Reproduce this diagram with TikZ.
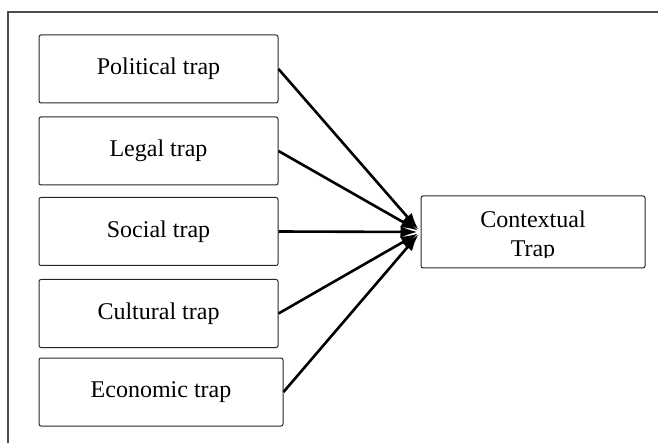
\documentclass[tikz,border=0pt]{standalone}
\usepackage{fontspec}
\setmainfont{Liberation Serif}
\usetikzlibrary{arrows.meta}
\begin{document}
\begin{tikzpicture}[x=1pt,y=-1pt,
  trapbox/.style={draw=black!85, line width=1pt, rounded corners=2pt,
    minimum width=239pt, minimum height=68pt, inner sep=0pt,
    font=\fontsize{24}{29}\selectfont},
  label/.style={font=\fontsize{24}{29}\selectfont, anchor=base, inner sep=0pt},
  feed/.style={line width=2.6pt, -{Latex[length=17pt,width=12pt]}, shorten >=3pt}]
\useasboundingbox (0,0) rectangle (658,443);
% outer frame (only top and left edges fall inside the page)
\draw[black!70, line width=1.4pt] (8,446) -- (8,12) -- (662,12);
% source boxes
\node[trapbox] (pol) at (158.5,69) {Political trap};
\node[trapbox] (leg) at (158.5,151) {Legal trap};
\node[trapbox] (soc) at (158.5,231.5) {Social trap};
\node[trapbox] (cul) at (158.5,313.5) {Cultural trap};
\node[trapbox, minimum width=244pt] (eco) at (161,392) {Economic trap};
% target box; its second text line is cut by the box bottom
\node[trapbox, minimum width=224pt, minimum height=72pt] (ctx) at (533,232) {};
\begin{scope}
  \clip (421,196) rectangle (645,257.5);
  \node[label] (ctxa) at (533,228) {Contextual};
  \node[label] (ctxb) at (533,257) {Trap};
\end{scope}
% connectors
\foreach \s in {pol,leg,soc,cul,eco}
  \draw[feed] (\s.east) -- (ctx.west);
\end{tikzpicture}
\end{document}
